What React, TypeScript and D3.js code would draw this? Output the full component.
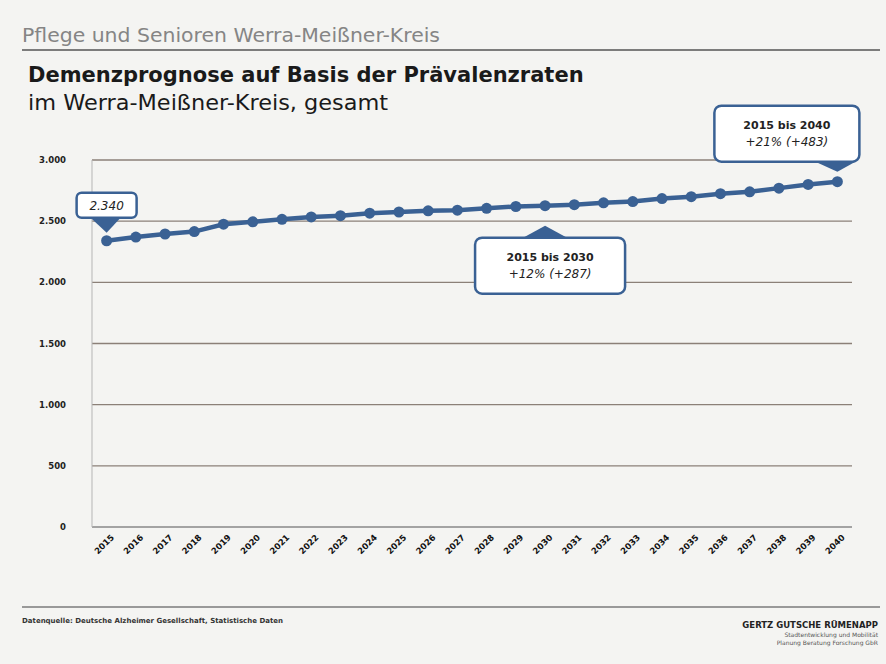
import React from "react";
import * as d3 from "d3";

const years = [
  "2015", "2016", "2017", "2018", "2019", "2020", "2021", "2022", "2023", "2024",
  "2025", "2026", "2027", "2028", "2029", "2030", "2031", "2032", "2033", "2034",
  "2035", "2036", "2037", "2038", "2039", "2040",
];
const cases = [
  2340, 2370, 2395, 2415, 2475, 2495, 2515, 2535, 2545, 2565,
  2575, 2585, 2590, 2605, 2620, 2627, 2635, 2650, 2660, 2685,
  2700, 2725, 2740, 2770, 2800, 2823,
];
const yTicks = [0, 500, 1000, 1500, 2000, 2500, 3000];
const yTickLabels = ["0", "500", "1.000", "1.500", "2.000", "2.500", "3.000"];

const header = "Pflege und Senioren Werra-Meißner-Kreis";
const title = "Demenzprognose auf Basis der Prävalenzraten";
const subtitle = "im Werra-Meißner-Kreis, gesamt";
const startLabel = "2.340";
const call2030 = ["2015 bis 2030", "+12% (+287)"];
const call2040 = ["2015 bis 2040", "+21% (+483)"];
const source = "Datenquelle: Deutsche Alzheimer Gesellschaft, Statistische Daten";
const firm = "GERTZ GUTSCHE RÜMENAPP";
const firmSub1 = "Stadtentwicklung und Mobilität";
const firmSub2 = "Planung Beratung Forschung GbR";

const W = 886;
const H = 664;
const left = 92;
const right = 852;
const top = 160;
const bottom = 527;
const blue = "#3a6194";
const font = "DejaVu Sans, Verdana, sans-serif";

export default function App() {
  const x = d3.scaleBand<string>().domain(years).range([left, right]);
  const cx = (i: number) => (x(years[i]) as number) + x.bandwidth() / 2;
  const y = d3.scaleLinear().domain([0, 3000]).range([bottom, top]);
  const line = d3
    .line<number>()
    .x((_, i) => cx(i))
    .y((d) => y(d));

  const i2030 = years.indexOf("2030");
  const iLast = years.length - 1;

  const p0x = cx(0), p0y = y(cases[0]);
  const p30x = cx(i2030), p30y = y(cases[i2030]);
  const p40x = cx(iLast), p40y = y(cases[iLast]);

  const b1 = { x: p0x - 30, y: p0y - 48, w: 60, h: 25 };
  const b2 = { x: p30x - 70, y: p30y + 32, w: 150, h: 56 };
  const b3 = { x: p40x - 123, y: p40y - 76, w: 145, h: 56 };

  return (
    <svg
      width={W}
      height={H}
      style={{ position: "absolute", left: 0, top: 0, background: "#f4f4f2" }}
      fontFamily={font}
    >
      <rect x={0} y={0} width={W} height={H} fill="#f4f4f2" />
      {/* header */}
      <text x={22} y={42} fontSize={19.5} fill="#858585" textLength={418} lengthAdjust="spacingAndGlyphs">{header}</text>
      <line x1={22} x2={880} y1={50} y2={50} stroke="#555" strokeWidth={1.5} />
      <text x={28} y={82} fontSize={21} fontWeight="bold" fill="#1a1a1a">{title}</text>
      <text x={28} y={110} fontSize={21} fill="#1a1a1a" textLength={360} lengthAdjust="spacingAndGlyphs">{subtitle}</text>

      {/* grid */}
      {yTicks.map((t, i) => (
        <g key={t}>
          <line
            x1={left}
            x2={right}
            y1={y(t)}
            y2={y(t)}
            stroke={t === 0 ? "#888" : "#8b8078"}
            strokeWidth={1.3}
          />
          <text
            x={66}
            y={y(t) + 3}
            textAnchor="end"
            fontSize={8.5}
            fontWeight="bold"
            fill="#222"
          >
            {yTickLabels[i]}
          </text>
        </g>
      ))}
      <line x1={left} x2={left} y1={top} y2={bottom} stroke="#b5b5b5" strokeWidth={1} />

      {/* x labels */}
      {years.map((yr, i) => (
        <text
          key={yr}
          transform={`translate(${cx(i) + 8},${bottom + 11}) rotate(-45)`}
          textAnchor="end"
          fontSize={8.5}
          fontWeight="bold"
          fill="#111"
        >
          {yr}
        </text>
      ))}

      {/* line */}
      <path d={line(cases) || ""} fill="none" stroke={blue} strokeWidth={4.5} />
      {cases.map((v, i) => (
        <circle key={i} cx={cx(i)} cy={y(v)} r={5.5} fill={blue} />
      ))}

      {/* callout 1 */}
      <path
        d={`M${b1.x + 14},${b1.y + b1.h} L${p0x},${p0y - 8} L${b1.x + 44},${b1.y + b1.h} Z`}
        fill={blue}
      />
      <rect x={b1.x} y={b1.y} width={b1.w} height={b1.h} rx={5} fill="#fff" stroke={blue} strokeWidth={2.5} />
      <text x={b1.x + b1.w / 2} y={b1.y + 17} textAnchor="middle" fontSize={12} fontStyle="italic" fill="#222">
        {startLabel}
      </text>

      {/* callout 2030 */}
      <path
        d={`M${p30x - 22},${b2.y} L${p30x},${p30y + 20} L${p30x + 22},${b2.y} Z`}
        fill={blue}
      />
      <rect x={b2.x} y={b2.y} width={b2.w} height={b2.h} rx={7} fill="#fff" stroke={blue} strokeWidth={2.5} />
      <text x={b2.x + b2.w / 2} y={b2.y + 23} textAnchor="middle" fontSize={11} fontWeight="bold" fill="#222">
        {call2030[0]}
      </text>
      <text x={b2.x + b2.w / 2} y={b2.y + 40} textAnchor="middle" fontSize={12} fontStyle="italic" fill="#222">
        {call2030[1]}
      </text>

      {/* callout 2040 */}
      <path
        d={`M${p40x - 22},${b3.y + b3.h} L${p40x},${p40y - 10} L${p40x + 18},${b3.y + b3.h} Z`}
        fill={blue}
      />
      <rect x={b3.x} y={b3.y} width={b3.w} height={b3.h} rx={7} fill="#fff" stroke={blue} strokeWidth={2.5} />
      <text x={b3.x + b3.w / 2} y={b3.y + 23} textAnchor="middle" fontSize={11} fontWeight="bold" fill="#222">
        {call2040[0]}
      </text>
      <text x={b3.x + b3.w / 2} y={b3.y + 40} textAnchor="middle" fontSize={12} fontStyle="italic" fill="#222">
        {call2040[1]}
      </text>

      {/* footer */}
      <line x1={22} x2={880} y1={607} y2={607} stroke="#999" strokeWidth={2} />
      <text x={22} y={623} fontSize={7} fontWeight="bold" fill="#333">{source}</text>
      <text x={878} y={628} textAnchor="end" fontSize={8.5} fontWeight="bold" fill="#222">{firm}</text>
      <text x={878} y={637} textAnchor="end" fontSize={6} fill="#555">{firmSub1}</text>
      <text x={878} y={645} textAnchor="end" fontSize={6} fill="#555">{firmSub2}</text>
    </svg>
  );
}
